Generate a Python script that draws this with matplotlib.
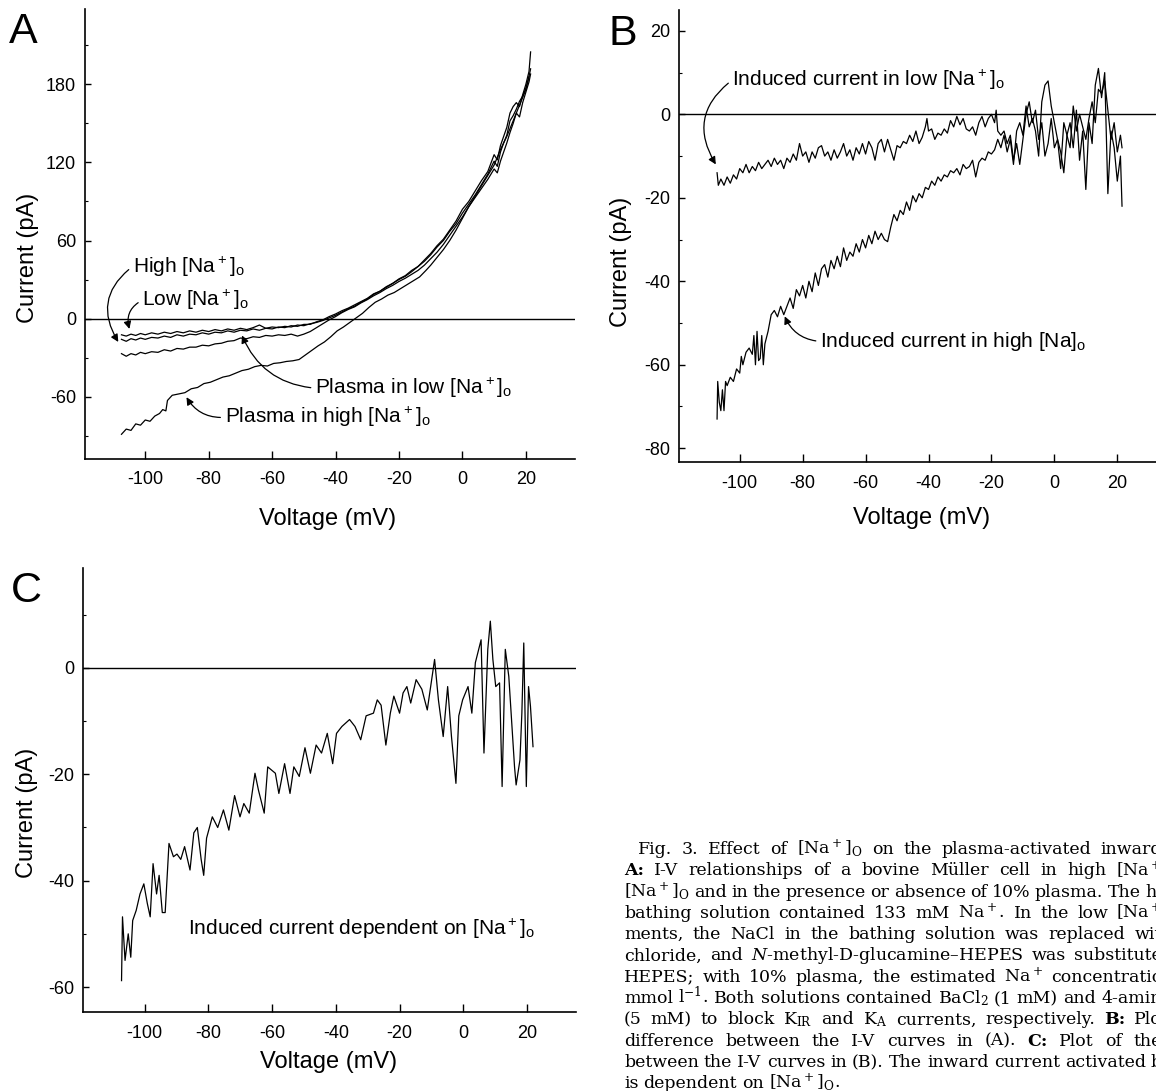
import matplotlib
matplotlib.use("Agg")
import matplotlib.pyplot as plt

# ── global style ──────────────────────────────────────────────────────────────
plt.rcParams.update({
    "font.family": "Liberation Sans",
    "mathtext.default": "regular",
    "mathtext.fontset": "custom",
    "mathtext.rm": "DejaVu Serif",
    "mathtext.it": "DejaVu Serif:italic",
    "axes.unicode_minus": False,
    "axes.linewidth": 1.2,
    "xtick.direction": "in",
    "ytick.direction": "in",
    "xtick.major.size": 5.5,
    "ytick.major.size": 4.5,
    "ytick.minor.size": 2.5,
    "xtick.major.width": 1.0,
    "ytick.major.width": 1.0,
    "ytick.minor.width": 0.8,
    "xtick.labelsize": 13,
    "ytick.labelsize": 13,
    "xtick.major.pad": 9,
    "ytick.major.pad": 6.5,
})

# ── data: panel A (I-V curves) ────────────────────────────────────────────────
a_v = [-107.5, -106, -104.5, -103, -101.5,
       -100, -98, -96, -94, -92, -90, -88, -86, -84, -82,
       -80, -78, -76, -74, -72, -70, -68, -66, -64, -62,
       -60, -58, -56, -54, -52, -50, -48, -46, -44, -42, -40,
       -38, -36, -34, -32, -30, -28, -26, -24, -22, -20,
       -18, -16, -14, -12, -10, -8, -6, -4, -2, 0,
       2, 4, 6, 8, 10,
       11, 12, 13, 14, 15, 16, 17, 18, 19, 20, 21,
       21.5]
a_low = [-12.5, -13.5, -12, -13, -11.5,
         -12.5, -11, -12, -10.5, -11.5, -10, -11, -9.5, -10.5, -9,
         -10, -8.5, -9.5, -8, -9, -7.5, -8.5, -7, -5, -7.5,
         -6.5, -7, -6, -6.5, -5, -5.5, -4, -3, -1.5, 0.5, 2.5,
         5, 7.5, 9.5, 12.5, 15, 18.5, 21, 24, 27, 30,
         32.5, 36, 40, 44, 49, 55, 60, 67, 73, 81,
         88, 95, 103, 111, 121,
         117, 128, 135, 141, 152, 156, 161, 167, 171, 177, 186,
         192]
a_high = [-16, -17.5, -15.5, -16.5, -15,
          -16, -14.5, -15, -13.5, -14.5, -12.5, -13.5, -12, -12.5, -11,
          -12, -10.5, -11, -9.5, -10.5, -9, -9.5, -8, -9, -7.5,
          -8, -6.5, -7, -5.5, -6, -4.5, -4.5, -2.5, -1, 1.5, 3.5,
          6, 8, 10.5, 13, 15.5, 19, 21, 24.5, 27, 30.5,
          33, 37, 40, 45, 50, 56, 61, 68, 75, 84,
          90, 98, 106, 113, 126,
          122, 133, 140, 147, 158, 163, 166, 163, 172, 180, 190,
          205]
a_plasma_low = [-27, -29, -27, -28, -26,
                -27, -25.5, -26, -24, -25, -23, -23.5, -22, -22, -20.5,
                -21, -19.5, -19, -17.5, -17, -15, -15.5, -14, -14.5, -13,
                -13.5, -12.5, -13, -12, -13.5, -12, -10, -7, -4, -1, 1.5,
                4.5, 7, 9, 12, 14.5, 17.5, 20, 23, 25.5, 28.5,
                31, 34, 37, 41, 46, 51, 57, 64, 71, 78,
                86, 93, 100, 107, 115,
                112, 121, 128, 135, 143, 150, 158, 155, 166, 174, 182,
                188]

a_ph_v = [-107.5, -106, -104.5, -103, -101.5, -100, -98.5, -97, -95.5, -94.5,
          -93.5, -93, -91.5,
          -89.5, -87.5, -85.5, -83.5, -81.5, -79.5, -77.5, -75.5, -73.5, -71.5,
          -69.5, -67.5, -65.5, -63.5, -61.5, -59.5, -57.5, -55.5, -53.5, -51.5,
          -49.5, -47.5, -45.5, -43.5, -41.5, -39.5, -37.5, -35.5, -33.5, -31.5,
          -29.5, -27.5, -25.5, -23.5, -21.5, -19.5, -17.5, -15.5, -13.5, -11.5,
          -10, -8, -6, -4, -2, 0, 2, 4, 6, 8,
          10, 12, 14, 16, 18, 20, 21]
a_plasma_high = [-89, -85, -86, -81, -82, -78, -79, -75, -73, -70,
                 -71, -63, -59,
                 -58, -57, -54, -53, -50, -49, -47, -45, -44, -42,
                 -40, -39, -37, -36, -36.5, -34.5, -34, -33, -32.5, -31.5,
                 -28, -24.5, -21, -18, -14, -9.5, -6.5, -3, 0.5, 4,
                 8.5, 12.5, 15, 18, 20, 23, 26, 29, 32, 37,
                 41, 47, 53, 60, 68, 77, 86, 94, 102, 110,
                 118, 130, 140, 152, 164, 176, 186]

# ── data: panel B (induced currents) ──────────────────────────────────────────
b_low_v = [-107.2, -106.8, -106, -105, -104, -103, -102, -101, -100, -99,
           -98, -97, -96, -95, -94, -93, -92, -91, -90, -89,
           -88, -87, -86, -85, -84, -83, -82, -81, -80, -79,
           -78, -77, -76, -75, -74, -73, -72, -71, -70, -69,
           -68, -67, -66, -65, -64, -63, -62, -61, -60, -59,
           -58, -57, -56, -55, -54, -53, -52, -51, -50, -49,
           -48, -47, -46, -45, -44, -43, -42, -41, -40.5, -40,
           -39, -38, -37, -36, -35, -34, -33, -32, -31, -30,
           -29, -28, -27, -26, -25, -24, -23, -22, -21, -20,
           -19, -18.5, -18, -17, -16, -15, -14, -13, -12, -11,
           -10, -9, -8, -7, -6, -5, -4, -3, -2, -1,
           0, 1, 2, 3, 4, 5, 6, 7, 8, 9,
           10, 11, 12, 13, 14, 15, 16, 17, 18, 19,
           20, 21, 21.5]
b_low = [-14, -17, -15.5, -17, -15, -16.5, -14.5, -15.5, -13, -14,
         -12, -14, -12.5, -13.5, -11.5, -13, -12, -11, -12.5, -10.5,
         -12, -11, -13, -10.5, -11.5, -9.5, -11, -7, -10, -9,
         -11.5, -9, -10.5, -8, -7.5, -10, -9, -11, -8.5, -10.5,
         -9, -7, -10, -8.5, -11, -8, -9.5, -7, -9.5, -6.5,
         -8, -11, -7, -6, -9, -6, -8.5, -11, -7.5, -8,
         -6.5, -7, -5, -6.5, -4, -7, -5.5, -3, -1, -4,
         -3.5, -6, -4.5, -5, -3.5, -4.5, -1.5, -3, -0.5, -2.5,
         -1, -3.5, -4, -3, -5, -2, -0.5, -3, -1, 0,
         -2, 1, -4, -5, -4, -7, -5, -11, -7, -12,
         -6, 0, 3, -2, 1, -6, -2, -10, -7, -1,
         -8, -6, -13, -2, -5, -8, 2, -4, 0, -3,
         -6, -1, 3, -2, 6, 5, 8, 1, -6, -2,
         -9, -5, -8]

b_high_v = [-107.2, -107, -106.5, -106, -105.5, -105, -104.5, -104, -103, -102,
            -101, -100, -99.5, -99, -98, -97, -96, -95.5, -95, -94.5,
            -94, -93.5, -93, -92.5, -92, -91, -90, -89, -88, -87,
            -86, -85, -84, -83, -82, -81, -80, -79, -78, -77,
            -76, -75, -74, -73, -72, -71, -70, -69, -68, -67,
            -66, -65, -64, -63, -62, -61, -60, -59, -58, -57,
            -56, -55, -54, -53, -52, -51, -50, -49, -48, -47,
            -46, -45, -44, -43, -42, -41, -40, -39, -38, -37,
            -36, -35, -34, -33, -32, -31, -30, -29, -28, -27,
            -26, -25, -24, -23, -22, -21, -20, -19, -18, -17,
            -16, -15, -14, -13, -12, -11, -10, -9, -8, -7,
            -6, -5, -4, -3, -2, -1, 0, 1, 2, 3,
            4, 5, 6, 7, 8, 9, 10, 11, 12, 13,
            14, 15, 16, 17, 18, 19, 20, 21, 21.5]
b_high = [-73, -64, -69, -71, -66, -71, -64, -65, -63, -64,
          -61, -62, -58, -60, -57, -56, -57.5, -53, -60, -52,
          -59, -58.5, -53, -60, -55, -52, -48, -47, -48.5, -46,
          -48, -46, -44, -46.5, -42, -43.5, -41, -44, -40, -42.5,
          -38, -41, -37, -36, -39, -35, -37, -34, -36.5, -32,
          -35, -33, -34, -31, -33, -30, -32, -29, -31, -28,
          -30, -28.5, -30, -30.5, -27, -24, -25.5, -23, -24, -21,
          -23, -19.5, -21, -19, -20, -17.5, -18, -16, -17, -15,
          -16, -14.5, -15, -13.5, -14, -13, -14.5, -12, -13, -12.5,
          -11, -15, -11.5, -10.5, -11, -9, -9.5, -8.5, -6, -8,
          -5, -9, -6, -12, -4, -2, -5, 2, -3, -1,
          -4, -10, 3, 7, 8, 2, -2, -6, -9, -14,
          -5, -2, -8, 1, -11, -4, -18, -2, -7, 7,
          11, 4, 10, -19, -4, -8, -16, -10, -22]

# ── data: panel C (Na-dependent induced current) ──────────────────────────────
c_v = [-107.3, -107.0, -106.2, -105.2, -104.4, -103.8, -102.7, -101.5, -100.3, -99.2,
       -98.3, -97.4, -96.3, -95.5, -94.5, -93.6, -92.4, -91.0, -89.9, -88.7,
       -87.5, -85.8, -84.6, -83.5, -82.3, -81.5, -80.6, -78.8, -77.1, -75.3,
       -73.6, -71.8, -70.1, -68.9, -67.2, -65.4, -64.3, -62.5, -61.4, -59.0,
       -57.9, -56.1, -54.4, -53.2, -51.5, -49.7, -48.0, -46.2, -44.5, -42.7,
       -41.0, -39.8, -38.1, -35.7, -34.0, -32.2, -30.5, -28.2, -27.0, -25.8,
       -24.3, -22.9, -21.8, -20.0, -18.9, -17.7, -16.5, -14.8, -13.0, -11.3,
       -9.0, -7.8, -6.3, -4.9, -3.7, -2.3, -1.4, -0.2, 1.5, 2.7,
       3.8, 5.6, 6.5, 7.7, 8.5, 9.3, 10.2, 11.4, 12.2, 13.2,
       14.3, 16.1, 16.6, 17.8, 18.4, 19.0, 19.8, 20.5, 21.1, 21.9]
c_i = [-58.8, -46.8, -55.0, -50.0, -54.4, -47.5, -45.6, -42.5, -40.6, -44.3,
       -46.8, -36.8, -42.5, -39.0, -46.0, -46.0, -33.0, -35.5, -35.0, -36.0,
       -33.6, -38.0, -31.0, -30.0, -36.0, -39.0, -32.0, -28.0, -30.0, -26.7,
       -30.5, -24.0, -28.0, -25.5, -27.3, -19.8, -23.0, -27.3, -18.6, -19.8,
       -23.6, -18.0, -23.6, -18.6, -20.4, -15.0, -19.8, -14.5, -16.0, -12.3,
       -18.0, -12.3, -11.0, -9.7, -11.0, -13.5, -9.0, -8.5, -6.0, -7.0,
       -14.5, -8.5, -5.3, -8.5, -4.7, -3.5, -6.6, -2.2, -4.0, -7.9,
       1.6, -6.0, -12.9, -3.5, -12.9, -21.7, -9.0, -6.0, -3.5, -8.5,
       1.0, 5.3, -16.0, 3.5, 8.8, 1.6, -3.5, -2.8, -22.3, 3.5,
       -1.6, -18.6, -22.0, -17.3, -8.5, 4.7, -22.3, -3.5, -7.2, -14.8]

x_ticks = [-100, -80, -60, -40, -20, 0, 20]
a_yticks = [-60, 0, 60, 120, 180]
a_yminor = [-90, -30, 30, 90, 150, 210]
b_yticks = [-80, -60, -40, -20, 0, 20]
b_yminor = [-70, -50, -30, -10, 10]
c_yticks = [-60, -40, -20, 0]
c_yminor = [-50, -30, -10, 10]

caption_lines = [
    "Fig. 3. Effect of [Na$^+$]$_O$ on the plasma-activated inward",
    "**A: I-V relationships of a bovine Müller cell in high [Na$^+$",
    "[Na$^+$]$_O$ and in the presence or absence of 10% plasma. The hi",
    "bathing solution contained 133 mM Na$^+$. In the low [Na$^+$",
    "ments, the NaCl in the bathing solution was replaced wit",
    "chloride, and $\\mathit{N}$-methyl-D-glucamine–HEPES was substitute",
    "HEPES; with 10% plasma, the estimated Na$^+$ concentratio",
    "mmol l$^{-1}$. Both solutions contained BaCl$_2$ (1 mM) and 4-amin",
    "(5 mM) to block K$_{IR}$ and K$_A$ currents, respectively. **B: Plo",
    "difference between the I-V curves in (A). **C: Plot of the",
    "between the I-V curves in (B). The inward current activated b",
    "is dependent on [Na$^+$]$_O$.",
]

# ── figure ────────────────────────────────────────────────────────────────────
W, H = 1156, 1091
fig = plt.figure(figsize=(W / 100, H / 100), dpi=100)


def add_panel(l, r, t, b):
    return fig.add_axes([l / W, 1 - b / H, (r - l) / W, (b - t) / H])


def style_axes(ax, xlim, ylim, yticks, yminor):
    ax.set_xlim(*xlim)
    ax.set_ylim(*ylim)
    ax.set_xticks(x_ticks)
    ax.set_yticks(yticks)
    ax.set_yticks(yminor, minor=True)
    ax.spines["top"].set_visible(False)
    ax.spines["right"].set_visible(False)
    ax.axhline(0, color="black", lw=1.0, zorder=1)


trace = dict(color="black", lw=0.9)
arrow = dict(arrowstyle="-|>", color="black", lw=0.9, mutation_scale=11,
             shrinkA=1, shrinkB=0, relpos=(0, 0.5))
note = dict(fontsize=15, ha="left", va="center")

# ── panel A ───────────────────────────────────────────────────────────────────
ax_a = add_panel(85, 575, 9, 459)
style_axes(ax_a, (-119, 35.5), (-108, 238), a_yticks, a_yminor)
ax_a.plot(a_v, a_low, **trace)
ax_a.plot(a_v, a_high, **trace)
ax_a.plot(a_v, a_plasma_low, **trace)
ax_a.plot(a_ph_v, a_plasma_high, **trace)

ax_a.annotate("High [Na$^+$]$_o$", xy=(-108.5, -18), xytext=(-104, 40),
              arrowprops=dict(arrow, connectionstyle="arc3,rad=0.45"), **note)
ax_a.annotate("Low [Na$^+$]$_o$", xy=(-105, -8), xytext=(-101, 14),
              arrowprops=dict(arrow, connectionstyle="arc3,rad=0.4"), **note)
ax_a.annotate("Plasma in low [Na$^+$]$_o$", xy=(-69.5, -13), xytext=(-46.5, -53.5),
              arrowprops=dict(arrow, connectionstyle="arc3,rad=-0.3"), **note)
ax_a.annotate("Plasma in high [Na$^+$]$_o$", xy=(-87, -60.5), xytext=(-75, -76),
              arrowprops=dict(arrow, connectionstyle="arc3,rad=-0.3"), **note)

# ── panel B ───────────────────────────────────────────────────────────────────
ax_b = add_panel(679, 1156, 10, 462)
style_axes(ax_b, (-119.3, 32.3), (-83.3, 25), b_yticks, b_yminor)
ax_b.plot(b_low_v, b_low, **trace)
ax_b.plot(b_high_v, b_high, **trace)
ax_b.annotate("Induced current in low [Na$^+$]$_o$", xy=(-107.6, -12), xytext=(-102.4, 8.2),
              arrowprops=dict(arrow, connectionstyle="arc3,rad=0.45"), **note)
ax_b.annotate("Induced current in high [Na]$_o$", xy=(-85.7, -48.4), xytext=(-74.5, -54.4),
              arrowprops=dict(arrow, connectionstyle="arc3,rad=-0.3"), **note)

# ── panel C ───────────────────────────────────────────────────────────────────
ax_c = add_panel(83, 576, 568, 1012)
style_axes(ax_c, (-119.4, 35.4), (-64.7, 18.8), c_yticks, c_yminor)
ax_c.plot(c_v, c_i, **trace)
ax_c.text(-86.4, -49, "Induced current dependent on [Na$^+$]$_o$", **note)

# ── axis labels & panel letters (figure pixels) ───────────────────────────────
for x, y in [(28, 258), (621, 262), (27, 813)]:
    fig.text(x / W, 1 - y / H, "Current (pA)", rotation=90, fontsize=17,
             ha="center", va="center")
for x, y in [(328, 519), (922, 518), (329, 1062)]:
    fig.text(x / W, 1 - y / H, "Voltage (mV)", fontsize=17, ha="center", va="center")
for letter, x, y in [("A", 9, 43), ("B", 608, 45), ("C", 11, 602)]:
    fig.text(x / W, 1 - y / H, letter, fontsize=31, ha="left", va="baseline")

# ── caption, justified word by word, cut at the right edge ────────────────────
cap_left, cap_indent, cap_right = 624, 14, 1162
cap_base, cap_step, cap_size = 854, 21.3, 12.5
renderer = fig.canvas.get_renderer()
for i, line in enumerate(caption_lines):
    y = 1 - (cap_base + i * cap_step) / H
    x_left = cap_left + (cap_indent if i == 0 else 0)
    words = []
    for tok in line.split(" "):
        bold = tok.startswith("**")
        words.append(fig.text(0, y, tok[2:] if bold else tok, family="DejaVu Serif",
                              fontsize=cap_size, fontweight="bold" if bold else "normal",
                              ha="left", va="baseline"))
    widths = [w.get_window_extent(renderer).width for w in words]
    if i < len(caption_lines) - 1:
        gap = max((cap_right - x_left - sum(widths)) / (len(words) - 1), 3)
    else:
        gap = 5
    x = x_left
    for w, wd in zip(words, widths):
        w.set_x(x / W)
        x += wd + gap

fig.savefig("out.png", dpi=100)
plt.close(fig)
